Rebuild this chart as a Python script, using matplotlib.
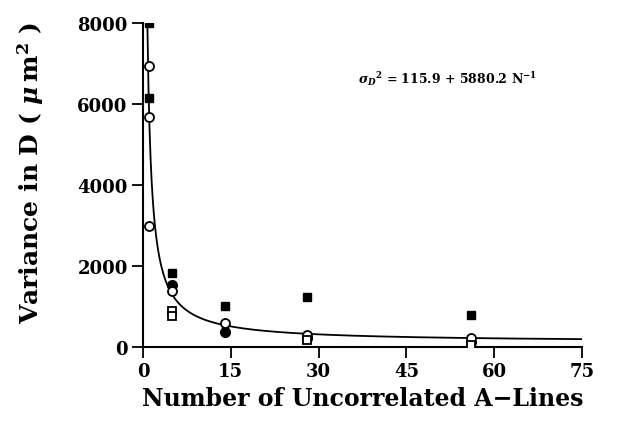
import numpy as np
import matplotlib.pyplot as plt

plt.rcParams['font.family'] = 'DejaVu Serif'
plt.rcParams['font.weight'] = 'bold'
plt.rcParams['mathtext.fontset'] = 'dejavuserif'

# filled squares
sq_fill_x = [1, 1, 5, 14, 28, 56]
sq_fill_y = [8000, 6150, 1830, 1020, 1230, 790]
# open circles
circ_open_x = [1, 1, 1, 5, 14, 28, 56]
circ_open_y = [6950, 5670, 3000, 1390, 590, 300, 230]
# filled circles
circ_fill_x = [5, 14, 28, 56]
circ_fill_y = [1530, 360, 230, 120]
# open squares
sq_open_x = [5, 5, 28, 56]
sq_open_y = [900, 770, 170, 60]

# fit: var = a + b / N
fit_a = 115.9
fit_b = 5880.2

fig = plt.figure(figsize=(6.29, 4.27), dpi=100)
ax = fig.add_axes([143 / 629, 79 / 427, 439 / 629, 324 / 427])

n = np.linspace(fit_b / (8000 - fit_a), 75, 400)
ax.plot(n, fit_a + fit_b / n, color='black', lw=1.3, zorder=2)

ax.plot(circ_fill_x, circ_fill_y, 'o', color='black', ms=7, zorder=3)
ax.plot(circ_open_x, circ_open_y, 'o', mfc='white', mec='black', mew=1.3, ms=6.5, zorder=4)
ax.plot(sq_open_x, sq_open_y, 's', mfc='white', mec='black', mew=1.3, ms=5.5, zorder=4)
ax.plot(sq_fill_x, sq_fill_y, 's', color='black', ms=5.5, zorder=5)

ax.set_xlim(0, 75)
ax.set_ylim(0, 8000)
ax.set_xticks([0, 15, 30, 45, 60, 75])
ax.set_yticks([0, 2000, 4000, 6000, 8000])

for s in ['top', 'right']:
    ax.spines[s].set_visible(False)
for s in ['left', 'bottom']:
    ax.spines[s].set_linewidth(1.5)
ax.tick_params(direction='out', length=8, width=1.3, labelsize=13, pad=3)
for lab in ax.get_xticklabels() + ax.get_yticklabels():
    lab.set_fontweight('bold')

ax.set_xlabel('Number of Uncorrelated A\u2212Lines', fontsize=17, fontweight='bold', labelpad=4)
ax.set_ylabel(r'Variance in D ( $\mathit{\mu}\,$m$^{2}$ )', fontsize=18, fontweight='bold')
ax.yaxis.set_label_coords(-0.22, 0.54)

ax.text(36.7, 6650, r'$\sigma_D{}^2$ = 115.9 + 5880.2 N$^{-1}$', fontsize=9,
        fontweight='bold', va='center', ha='left')

fig.savefig('out.png', dpi=100)
